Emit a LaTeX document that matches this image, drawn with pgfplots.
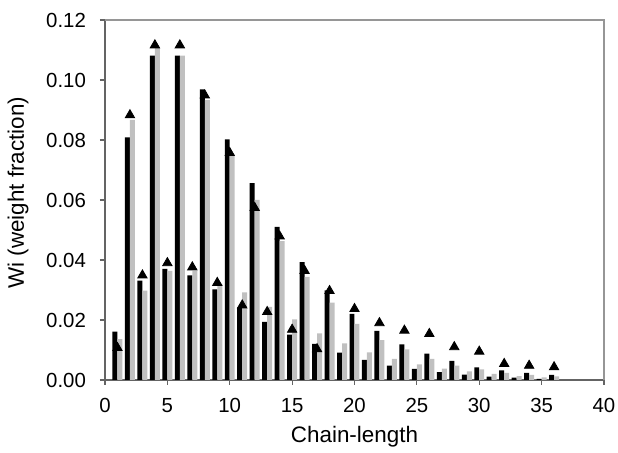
\documentclass[border=0pt]{standalone}
\usepackage{fontspec}
\setmainfont{Liberation Sans}
\usepackage{pgfplots}
\pgfplotsset{compat=1.18}
\usepackage{pgfplotstable}

\definecolor{barblack}{RGB}{0,0,0}
\definecolor{bargray}{RGB}{192,192,192}
\definecolor{axisgray}{RGB}{100,100,100}
\definecolor{framegray}{RGB}{150,150,150}

% chain length, black bars, gray bars
\pgfplotstableread{
n  blk     gry
1  0.0161  0.0136
2  0.0809  0.0867
3  0.0331  0.0298
4  0.1081  0.1109
5  0.0370  0.0364
6  0.1081  0.1081
7  0.0349  0.0364
8  0.0969  0.0933
9  0.0302  0.0320
10 0.0802  0.0747
11 0.0242  0.0292
12 0.0656  0.0600
13 0.0194  0.0244
14 0.0510  0.0463
15 0.0151  0.0202
16 0.0393  0.0344
17 0.0120  0.0155
18 0.0299  0.0258
19 0.0091  0.0122
20 0.0220  0.0187
21 0.0067  0.0092
22 0.0164  0.0133
23 0.0048  0.0070
24 0.0119  0.0102
25 0.0037  0.0052
26 0.0088  0.0070
27 0.0026  0.0038
28 0.0064  0.0048
29 0.0018  0.0029
30 0.0042  0.0035
31 0.0011  0.0020
32 0.0032  0.0024
33 0.0008  0.0013
34 0.0024  0.0017
35 0.0004  0.0009
36 0.0017  0.0012
}\bars

% triangles
\pgfplotstableread{
n  tri
1  0.0107
2  0.0883
3  0.0349
4  0.1116
5  0.0390
6  0.1116
7  0.0376
8  0.0949
9  0.0324
10 0.0757
11 0.0249
12 0.0574
13 0.0227
14 0.0479
15 0.0168
16 0.0364
17 0.0103
18 0.0297
20 0.0237
22 0.0190
24 0.0165
26 0.0154
28 0.0110
30 0.0095
32 0.0054
34 0.0048
36 0.0043
}\tris

\begin{document}
\begin{tikzpicture}
\begin{axis}[
    scale only axis,
    width=249.5pt,
    height=180pt,
    xmin=0, xmax=40,
    ymin=0, ymax=0.12,
    xtick={0,5,10,15,20,25,30,35,40},
    ytick={0,0.02,0.04,0.06,0.08,0.1,0.12},
    scaled y ticks=false,
    yticklabel style={/pgf/number format/fixed, /pgf/number format/fixed zerofill, /pgf/number format/precision=2},
    /pgf/number format/assume math mode=true,
    axis x line*=bottom,
    axis y line*=left,
    axis line style={axisgray, line width=0.6pt, -},
    tick style={axisgray, line width=0.6pt},
    tick align=outside,
    major tick length=2.5pt,
    tick label style={font=\fontsize{10.2}{12}\selectfont, black},
    every y tick label/.append style={xshift=-3.5pt},
    every x tick label/.append style={yshift=-3pt},
    label style={font=\fontsize{11.2}{13}\selectfont},
    xlabel={Chain-length},
    ylabel={Wi (weight fraction)},
    xlabel style={at={(axis description cs:0.5,0)}, anchor=center, yshift=-28.5pt},
    ylabel style={at={(axis description cs:0,0.52)}, anchor=center, yshift=43.5pt},
    clip=false,
]
\addplot[ybar, bar width=0.4, bar shift=-0.2, fill=barblack, draw=none] table[x=n, y=blk] {\bars};
\addplot[ybar, bar width=0.4, bar shift=0.2, fill=bargray, draw=none] table[x=n, y=gry] {\bars};
\addplot[only marks, mark=triangle*, mark size=2.7pt, mark options={fill=black, draw=black}] table[x=n, y=tri] {\tris};
\draw[framegray, line width=0.6pt] (rel axis cs:0,1) -- (rel axis cs:1,1) -- (rel axis cs:1,0);
\end{axis}
\pgfresetboundingbox
\path ([xshift=-52.5pt,yshift=-36.5pt]current axis.south west) rectangle ([xshift=7pt,yshift=10pt]current axis.north east);
\end{tikzpicture}
\end{document}
